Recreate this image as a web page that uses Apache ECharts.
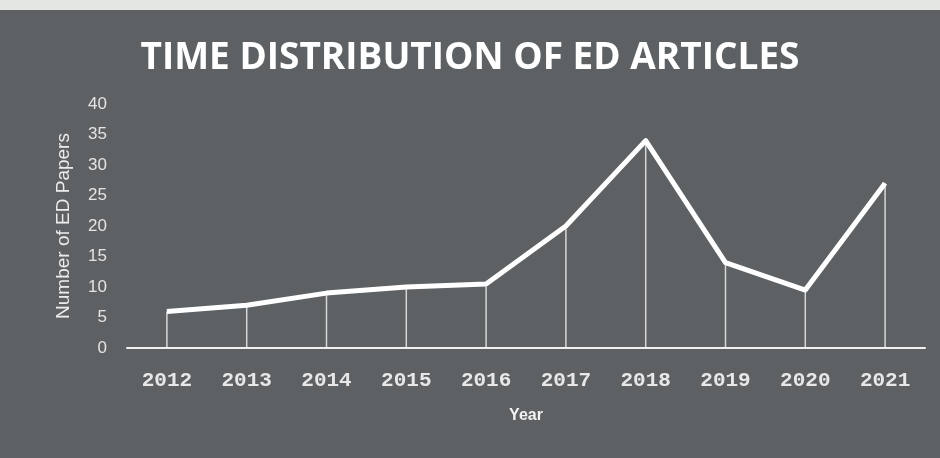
<!DOCTYPE html>
<html>
<head>
<meta charset="utf-8">
<script src="https://cdn.jsdelivr.net/npm/echarts@6/dist/echarts.min.js"></script>
<style>
  html, body { margin: 0; padding: 0; background: #e4e6e4; }
  #chart { width: 940px; height: 458px; }
</style>
</head>
<body>
<div id="chart"></div>
<script>
const years = ['2012', '2013', '2014', '2015', '2016', '2017', '2018', '2019', '2020', '2021']
const papers = [6, 7, 9, 10, 10.5, 20, 34, 14, 9.5, 27]
const yTicks = { min: 0, max: 40, interval: 5 }

const chart = echarts.init(document.getElementById('chart'))
const option = {
  backgroundColor: '#5d6163',
  graphic: [
    { type: 'rect', left: 0, top: 0, shape: { width: 940, height: 10 }, style: { fill: '#e4e6e4' } }
  ],
  title: {
    text: 'TIME DISTRIBUTION OF ED ARTICLES',
    left: 'center',
    top: 35,
    textStyle: {
      color: '#ffffff',
      fontFamily: 'Open Sans',
      fontWeight: 'bold',
      fontSize: 37
    }
  },
  grid: { left: 127, right: 15, top: 104, bottom: 110 },
  xAxis: {
    type: 'category',
    data: years,
    name: 'Year',
    nameLocation: 'middle',
    nameGap: 60,
    nameTextStyle: { color: '#f2f2f2', fontSize: 16, fontWeight: 'bold', fontFamily: 'Liberation Sans' },
    axisLine: { lineStyle: { color: '#f0f0f0', width: 2 } },
    axisTick: { show: false },
    axisLabel: { color: '#e8e8e8', fontSize: 21, margin: 22, fontFamily: 'Liberation Mono', fontWeight: 'bold' }
  },
  yAxis: {
    type: 'value',
    min: yTicks.min,
    max: yTicks.max,
    interval: yTicks.interval,
    name: 'Number of ED Papers',
    nameLocation: 'middle',
    nameGap: 54,
    nameTextStyle: { color: '#ececec', fontSize: 19, fontFamily: 'Liberation Sans' },
    axisLine: { show: false },
    axisTick: { show: false },
    splitLine: { show: false },
    axisLabel: { color: '#e4e4e4', fontSize: 17, margin: 20, fontFamily: 'Liberation Sans' }
  },
  series: [
    {
      name: 'drop',
      type: 'bar',
      data: papers,
      barWidth: 1.5,
      itemStyle: { color: 'rgba(255,255,255,0.75)' },
      silent: true
    },
    {
      name: 'ED Papers',
      type: 'line',
      data: papers,
      symbol: 'none',
      lineStyle: { color: '#ffffff', width: 5, join: 'round' },
      z: 3
    }
  ]
}
chart.setOption(option)
</script>
</body>
</html>
